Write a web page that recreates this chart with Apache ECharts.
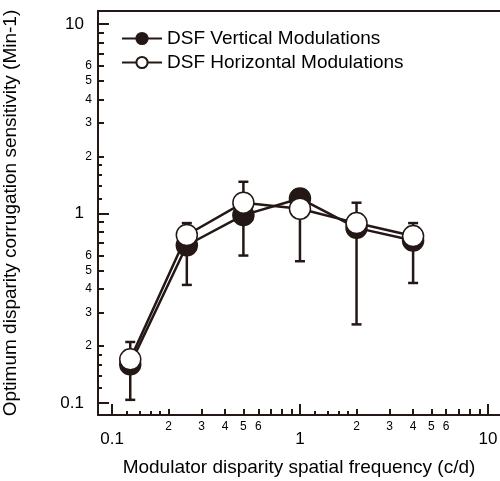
<!DOCTYPE html>
<html>
<head>
<meta charset="utf-8">
<script src="https://cdn.jsdelivr.net/npm/echarts@6/dist/echarts.min.js"></script>
<style>
  html, body { margin: 0; padding: 0; background: #fff; }
  #main { width: 500px; height: 481px; }
</style>
</head>
<body>
<div id="main"></div>
<script>
// spatial frequency (c/d)
const freq = [0.125, 0.25, 0.5, 1, 2, 4];
// sensitivity (Min-1)
const vertical = [0.16, 0.68, 0.98, 1.2, 0.84, 0.72];
const horizontal = [0.17, 0.77, 1.14, 1.06, 0.89, 0.76];
// error bars
const errLow = [0.104, 0.42, 0.6, 0.56, 0.26, 0.43];
const errHigh = [0.21, 0.89, 1.47, 1.3, 1.14, 0.89];

// axis ticks / labels
const majorTicks = [0.1, 1, 10];
const midTicks = [0.2, 0.3, 0.4, 0.5, 0.6, 0.7, 0.8, 0.9, 2, 3, 4, 5, 6, 7, 8, 9];
const minorTicks = [0.12, 0.14, 0.16, 0.18, 1.2, 1.4, 1.6, 1.8];
const smallLabels = [0.2, 0.3, 0.4, 0.5, 0.6, 2, 3, 4, 5, 6];

const ink = '#231815';
const font = 'Liberation Sans, Arial, sans-serif';
const xMin = 0.0842, xMax = 11.6;
const yMin = 0.0865, yMax = 11.7;

const bigFmt = v => String(Number(v.toPrecision(2)));
const smallFmt = v => String(v < 1 ? Math.round(v * 10) : Math.round(v));

function makeAxis(pos, extra) {
    const isX = pos === 'bottom' || pos === 'top';
    return Object.assign({
        type: 'log',
        position: pos,
        min: isX ? xMin : yMin,
        max: isX ? xMax : yMax,
        splitLine: { show: false },
        axisLine: { show: false, onZero: false },
        axisTick: { show: false },
        axisLabel: { show: false }
    }, extra);
}

const chart = echarts.init(document.getElementById('main'));

chart.setOption({
    animation: false,
    grid: { left: 98, right: 0, top: 11, bottom: 66, containLabel: false, outerBoundsMode: 'none' },
    legend: {
        data: ['DSF Vertical Modulations', 'DSF Horizontal Modulations'],
        orient: 'vertical',
        left: 116,
        top: 24,
        itemWidth: 40,
        itemHeight: 14,
        itemGap: 5,
        textStyle: { fontFamily: font, fontSize: 19, color: '#000' }
    },
    xAxis: [
        makeAxis('bottom', {
            name: 'Modulator disparity spatial frequency (c/d)',
            nameLocation: 'middle',
            nameGap: 43,
            nameTextStyle: { fontFamily: font, fontSize: 19, color: '#000' },
            axisLine: { show: true, onZero: false, lineStyle: { color: ink, width: 2 } },
            axisTick: { show: true, inside: true, length: 11, customValues: majorTicks,
                lineStyle: { color: ink, width: 2 } },
            axisLabel: { show: true, customValues: majorTicks, margin: 16, formatter: bigFmt,
                fontFamily: font, fontSize: 17, color: '#000' }
        }),
        makeAxis('bottom', {
            axisTick: { show: true, inside: true, length: 6, customValues: midTicks,
                lineStyle: { color: ink, width: 2 } },
            axisLabel: { show: true, customValues: smallLabels, margin: 6, formatter: smallFmt,
                fontFamily: font, fontSize: 12, color: '#000' }
        }),
        makeAxis('bottom', {
            axisTick: { show: true, inside: true, length: 4, customValues: minorTicks,
                lineStyle: { color: ink, width: 2 } }
        }),
        makeAxis('top', {
            axisLine: { show: true, onZero: false, lineStyle: { color: ink, width: 2 } }
        })
    ],
    yAxis: [
        makeAxis('left', {
            name: 'Optimum disparity corrugation sensitivity (Min-1)',
            nameLocation: 'middle',
            nameGap: 78,
            nameTextStyle: { fontFamily: font, fontSize: 19, color: '#000' },
            axisLine: { show: true, onZero: false, lineStyle: { color: ink, width: 2 } },
            axisTick: { show: true, inside: true, length: 11, customValues: majorTicks,
                lineStyle: { color: ink, width: 2 } },
            axisLabel: { show: true, customValues: majorTicks, margin: 14, formatter: bigFmt,
                fontFamily: font, fontSize: 17, color: '#000' }
        }),
        makeAxis('left', {
            axisTick: { show: true, inside: true, length: 6, customValues: midTicks,
                lineStyle: { color: ink, width: 2 } },
            axisLabel: { show: true, customValues: smallLabels, margin: 6, formatter: smallFmt,
                fontFamily: font, fontSize: 12, color: '#000' }
        }),
        makeAxis('left', {
            axisTick: { show: true, inside: true, length: 4, customValues: minorTicks,
                lineStyle: { color: ink, width: 2 } }
        })
    ],
    series: [
        {
            name: 'error',
            type: 'custom',
            xAxisIndex: 0,
            yAxisIndex: 0,
            z: 1,
            encode: { x: 0, y: [1, 2] },
            data: freq.map((f, i) => [f, errLow[i], errHigh[i]]),
            renderItem: function (params, api) {
                const x = api.value(0);
                const lo = api.coord([x, api.value(1)]);
                const hi = api.coord([x, api.value(2)]);
                const hw = 5;
                const style = { stroke: ink, lineWidth: 2.5 };
                return {
                    type: 'group',
                    children: [
                        { type: 'line', shape: { x1: lo[0], y1: lo[1], x2: hi[0], y2: hi[1] }, style: style },
                        { type: 'line', shape: { x1: lo[0] - hw, y1: lo[1], x2: lo[0] + hw, y2: lo[1] }, style: style },
                        { type: 'line', shape: { x1: hi[0] - hw, y1: hi[1], x2: hi[0] + hw, y2: hi[1] }, style: style }
                    ]
                };
            }
        },
        {
            name: 'DSF Vertical Modulations',
            type: 'line',
            xAxisIndex: 0,
            yAxisIndex: 0,
            z: 3,
            data: freq.map((f, i) => [f, vertical[i]]),
            symbol: 'circle',
            symbolSize: 21,
            lineStyle: { color: ink, width: 2.5 },
            itemStyle: { color: ink, borderColor: ink, borderWidth: 1.5 }
        },
        {
            name: 'DSF Horizontal Modulations',
            type: 'line',
            xAxisIndex: 0,
            yAxisIndex: 0,
            z: 4,
            data: freq.map((f, i) => [f, horizontal[i]]),
            symbol: 'circle',
            symbolSize: 21,
            lineStyle: { color: ink, width: 2.5 },
            itemStyle: { color: '#fff', borderColor: ink, borderWidth: 1.5 }
        }
    ]
});
</script>
</body>
</html>
